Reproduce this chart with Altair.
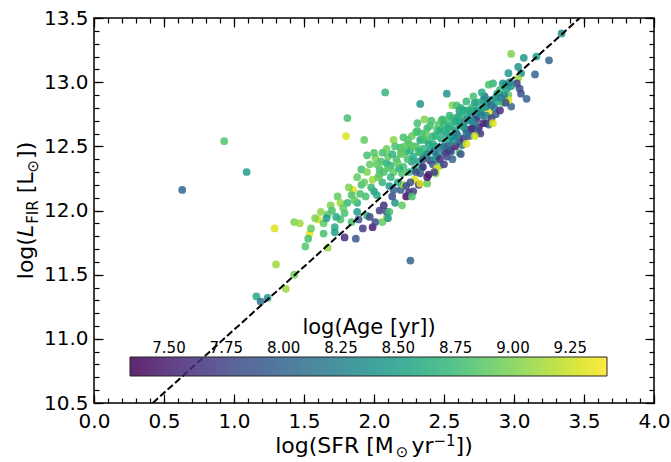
import altair as alt
import pandas as pd

# ---------------- data ----------------
# sparse / outlying galaxies
sfr_a = [0.63, 0.93, 1.09, 1.29, 1.30, 1.16, 1.19, 1.24, 1.37, 1.43, 2.08, 1.81, 1.80, 1.93, 2.26, 3.34, 2.33, 2.52]
lfir_a = [12.16, 12.54, 12.30, 11.86, 11.58, 11.33, 11.29, 11.32, 11.39, 11.50, 12.92, 12.72, 12.58, 12.55, 11.61, 13.38, 12.83, 12.91]
age_a = [8.0, 8.85, 8.5, 9.3, 9.1, 8.6, 8.1, 8.4, 9.1, 8.95, 8.7, 8.8, 9.3, 8.9, 8.0, 8.35, 8.4, 8.4]

# lower part of the band
sfr_b = [1.95, 2.01, 1.91, 1.95, 2.04, 1.91, 1.85, 1.74, 1.84, 1.69, 1.76, 1.81, 1.62, 1.67, 1.43, 1.47, 1.60, 1.64,
         1.72, 1.76, 1.84, 1.89, 1.79, 1.88, 1.95, 1.97, 1.92, 1.99, 2.01, 2.06, 2.09, 1.87, 1.79, 1.72, 1.64, 1.54,
         1.53, 1.51, 1.67, 2.04, 2.09, 2.15, 2.13, 2.07, 2.19, 2.23, 2.21, 2.11, 2.06, 2.00, 1.94, 1.88]
lfir_b = [12.43, 12.41, 12.32, 12.30, 12.28, 12.20, 12.16, 12.11, 12.12, 12.04, 12.06, 12.06, 11.99, 11.97, 11.91, 11.90, 11.93, 11.90,
          11.87, 11.93, 11.91, 11.93, 11.98, 11.99, 11.96, 11.95, 11.86, 11.87, 11.91, 11.91, 11.94, 11.78, 11.79, 11.83, 11.82, 11.82,
          11.78, 11.72, 11.71, 12.00, 11.99, 12.06, 12.11, 12.04, 12.16, 12.11, 12.20, 12.19, 12.22, 12.15, 12.11, 12.06]
age_b = [8.8, 9.0, 8.8, 9.0, 8.9, 8.8, 9.3, 8.9, 8.8, 9.0, 9.1, 8.7, 9.05, 8.9, 9.0, 9.1, 9.3, 8.9,
         8.6, 8.8, 8.8, 7.9, 8.8, 8.5, 8.7, 7.8, 7.7, 7.5, 7.8, 8.9, 9.1, 7.9, 7.6, 8.5, 8.8, 9.35,
         8.8, 8.85, 9.1, 7.7, 7.9, 8.4, 7.8, 7.6, 7.9, 7.4, 9.1, 8.4, 8.7, 8.5, 8.8, 8.6]

# middle of the band
sfr_c = [2.14, 2.21, 2.25, 2.31, 2.36, 2.30, 2.38, 2.33, 2.48, 2.19, 2.23, 2.56, 2.59, 2.66, 2.72, 2.79, 2.82, 2.80,
         2.75, 2.69, 2.61, 2.54, 2.51, 2.45, 2.61, 2.47, 2.40, 2.39, 2.33, 2.29, 2.32, 2.23, 2.25, 2.28, 2.14, 2.45,
         2.49, 2.61, 2.69, 2.64, 2.73, 2.52, 2.57, 2.42, 2.35, 2.50, 2.33, 2.19, 2.27, 2.21, 2.14, 2.09, 2.04, 1.99]
lfir_c = [12.55, 12.57, 12.52, 12.68, 12.71, 12.61, 12.64, 12.55, 12.70, 12.49, 12.46, 12.82, 12.82, 12.85, 12.84, 12.89, 12.76, 12.68,
          12.65, 12.63, 12.54, 12.47, 12.45, 12.42, 12.45, 12.35, 12.39, 12.28, 12.29, 12.24, 12.20, 12.19, 12.14, 12.15, 12.16, 12.63,
          12.71, 12.78, 12.76, 12.69, 12.73, 12.60, 12.58, 12.52, 12.55, 12.50, 12.45, 12.45, 12.38, 12.34, 12.30, 12.37, 12.32, 12.24]
age_c = [9.05, 8.8, 8.8, 8.8, 9.0, 8.8, 8.7, 8.5, 9.1, 8.8, 8.6, 9.0, 8.8, 8.7, 8.4, 8.0, 9.3, 7.6,
         7.5, 7.7, 7.7, 7.6, 7.5, 7.7, 8.8, 8.8, 7.7, 7.5, 7.9, 9.3, 7.6, 7.8, 7.6, 7.7, 8.0, 8.8,
         8.7, 8.5, 8.4, 8.1, 8.0, 8.5, 8.4, 8.6, 8.75, 8.0, 8.8, 8.85, 8.5, 8.8, 8.9, 8.6, 8.8, 9.1]

# upper part of the band
sfr_d = [2.98, 3.07, 3.16, 3.25, 3.03, 3.05, 2.96, 3.15, 3.03, 3.02, 3.04, 3.05, 3.09, 2.98, 2.92, 2.96, 2.85, 2.82,
         2.92, 2.96, 2.88, 2.76, 2.80, 2.73, 2.82, 2.76, 2.66, 2.63, 2.78, 2.71, 2.60, 2.70, 2.54,
         2.20, 2.11, 2.10, 2.27, 2.33, 2.38, 2.44]
lfir_d = [13.22, 13.19, 13.20, 13.17, 13.12, 13.07, 13.07, 13.06, 13.03, 12.99, 12.95, 12.91, 12.87, 12.81, 12.99, 12.90, 12.99, 12.98,
          12.84, 12.86, 12.91, 12.77, 12.81, 12.71, 12.67, 12.60, 12.63, 12.51, 12.86, 12.89, 12.73, 12.78, 12.74,
          12.04, 11.99, 11.94, 12.11, 12.21, 12.21, 12.29]
age_d = [9.0, 8.4, 8.5, 8.0, 8.4, 8.35, 8.45, 8.0, 9.1, 7.7, 7.8, 7.85, 8.0, 8.0, 8.4, 8.9, 8.7, 8.8,
         8.85, 9.3, 8.5, 7.8, 8.1, 7.7, 8.0, 7.7, 7.6, 8.1, 8.4, 8.8, 8.4, 8.5, 8.7,
         8.9, 8.8, 8.5, 8.8, 9.3, 8.9, 9.0]

# dense core of the relation
sfr_e = [2.05, 2.10, 2.12, 2.16, 2.18, 2.20, 2.24, 2.26, 2.28, 2.30, 2.32, 2.35, 2.36, 2.38, 2.40, 2.42, 2.44, 2.46,
         2.48, 2.50, 2.53, 2.55, 2.58, 2.60, 2.63, 2.65, 2.68, 2.70, 2.72, 2.75, 2.78, 2.80, 2.83, 2.86, 2.88, 2.90,
         2.93, 2.95, 2.98,
         1.97, 2.00, 2.03, 2.07, 2.09, 2.12, 2.15, 2.17, 2.22, 2.25, 2.27, 2.29, 2.31, 2.34, 2.37, 2.40, 2.43, 2.46,
         2.52, 2.56, 2.60, 2.62, 2.67, 2.74, 2.77]
lfir_e = [12.38, 12.42, 12.35, 12.40, 12.33, 12.44, 12.40, 12.47, 12.42, 12.50, 12.38, 12.48, 12.42, 12.55, 12.47, 12.58, 12.50, 12.44,
          12.56, 12.62, 12.54, 12.66, 12.62, 12.68, 12.74, 12.64, 12.70, 12.80, 12.66, 12.76, 12.80, 12.74, 12.86, 12.80, 12.85, 12.94,
          12.90, 12.95, 12.97,
          12.36, 12.45, 12.26, 12.30, 12.48, 12.26, 12.50, 12.22, 12.50, 12.30, 12.58, 12.32, 12.62, 12.33, 12.60, 12.66, 12.40, 12.67,
          12.70, 12.72, 12.58, 12.80, 12.78, 12.84, 12.92]
age_e = [8.8, 8.9, 8.7, 8.8, 8.6, 8.9, 8.8, 8.7, 8.6, 8.8, 8.5, 8.7, 8.6, 8.8, 8.5, 8.7, 8.6, 8.4,
         8.6, 8.7, 8.5, 8.6, 8.5, 8.6, 8.7, 8.4, 8.5, 8.7, 8.2, 8.45, 8.6, 8.3, 8.5, 8.2, 8.6, 8.7,
         8.3, 8.5, 8.4,
         8.9, 8.85, 8.9, 8.8, 8.95, 8.7, 8.8, 8.6, 8.9, 8.7, 8.9, 8.6, 8.8, 8.5, 8.9, 8.8, 8.5, 8.85,
         8.8, 8.75, 8.4, 8.7, 8.6, 8.6, 8.6]

# young systems on / below the relation
sfr_f = [2.30, 2.35, 2.42, 2.47, 2.55, 2.58, 2.64, 2.68, 2.70, 2.74, 2.78, 2.84, 2.87, 2.90, 2.94, 2.62, 2.50, 2.38,
         2.26, 2.56, 2.66, 2.45, 2.72, 2.85,
         1.55, 1.58, 1.70, 1.78, 1.86, 1.90, 1.93, 1.98, 2.02, 1.82, 1.88, 1.66, 1.73]
lfir_f = [12.30, 12.34, 12.36, 12.40, 12.46, 12.50, 12.56, 12.58, 12.64, 12.62, 12.68, 12.72, 12.75, 12.78, 12.84, 12.44, 12.36, 12.26,
          12.22, 12.40, 12.52, 12.33, 12.58, 12.68,
          11.86, 11.94, 12.00, 12.02, 12.08, 12.13, 12.22, 12.18, 12.12, 12.18, 12.26, 11.94, 11.95]
age_f = [7.8, 7.6, 7.9, 7.6, 7.8, 7.5, 7.7, 7.9, 7.6, 7.8, 7.6, 7.7, 7.9, 7.6, 7.8, 7.9, 7.7, 7.5,
         7.8, 8.0, 9.3, 9.3, 9.25, 9.3,
         8.9, 9.0, 8.8, 8.9, 8.9, 8.8, 8.9, 8.7, 8.6, 9.0, 8.9, 8.5, 8.6]

# further galaxies in the crowded part of the band
sfr_g = [2.02, 2.06, 2.10, 2.13, 2.17, 2.20, 2.24, 2.28, 2.32, 2.34, 2.39, 2.41, 2.44, 2.47, 2.50, 2.53, 2.55, 2.58,
         2.62, 2.64, 2.67, 2.70, 2.74, 2.77, 2.81, 2.84, 2.87, 2.91, 2.94, 2.97, 2.38, 2.43, 2.48, 2.53, 2.57, 2.35,
         2.59, 2.66, 2.52, 2.43]
lfir_g = [12.36, 12.45, 12.33, 12.44, 12.37, 12.29, 12.55, 12.50, 12.46, 12.60, 12.52, 12.70, 12.58, 12.62, 12.67, 12.64, 12.58, 12.70,
          12.66, 12.78, 12.72, 12.70, 12.78, 12.74, 12.84, 12.82, 12.88, 12.88, 12.98, 13.00, 12.44, 12.46, 12.49, 12.50, 12.54, 12.40,
          12.60, 12.60, 12.42, 12.30]
age_g = [8.9, 8.8, 8.85, 8.7, 8.9, 8.8, 8.85, 8.9, 8.7, 8.8, 8.6, 8.8, 8.7, 8.6, 8.7, 8.6, 8.5, 8.6,
         8.5, 8.6, 8.45, 8.3, 8.4, 8.2, 8.4, 8.1, 8.4, 8.2, 8.45, 8.3, 8.3, 8.1, 8.2, 8.0, 8.3, 8.0,
         8.2, 8.1, 7.8, 7.7]

# dashed reference relation (end points at the y-range edges)
line_sfr = [0.42, 3.47]
line_lfir = [10.5, 13.5]

x_major = [0.0, 0.5, 1.0, 1.5, 2.0, 2.5, 3.0, 3.5, 4.0]
y_major = [10.5, 11.0, 11.5, 12.0, 12.5, 13.0, 13.5]
x_minor = [round(0.1 * i, 1) for i in range(41)]
y_minor = [round(10.5 + 0.1 * i, 1) for i in range(31)]
age_ticks = [7.5, 7.75, 8.0, 8.25, 8.5, 8.75, 9.0, 9.25]
age_domain = [7.33, 9.41]

# ---------------- chart ----------------
df = pd.DataFrame({
    "sfr": sfr_a + sfr_b + sfr_c + sfr_d + sfr_e + sfr_f + sfr_g,
    "lfir": lfir_a + lfir_b + lfir_c + lfir_d + lfir_e + lfir_f + lfir_g,
    "age": age_a + age_b + age_c + age_d + age_e + age_f + age_g,
})
line_df = pd.DataFrame({"sfr": line_sfr, "lfir": line_lfir})

FONT = "DejaVu Sans"
W, H = 560, 385
xscale = alt.Scale(domain=[0, 4], nice=False, zero=False)
yscale = alt.Scale(domain=[10.5, 13.5], nice=False, zero=False)


def axis(orient, values, size, labels, pad=6):
    kw = dict(orient=orient, values=values, tickSize=size, offset=-size, domain=False, grid=False,
              ticks=True, tickColor="black", tickWidth=1.2, title=None, labels=labels)
    if labels:
        kw.update(labelFontSize=20, labelFont=FONT, labelColor="black", labelPadding=pad,
                  format=".1f", labelFlush=False, labelOverlap=False)
    return alt.Axis(**kw)


pts = alt.Chart(df).mark_circle(size=60, opacity=0.85).encode(
    x=alt.X("sfr:Q", scale=xscale, axis=axis("bottom", x_major, 9, True, 8)),
    y=alt.Y("lfir:Q", scale=yscale, axis=axis("left", y_major, 9, True, 6)),
    color=alt.Color("age:Q", scale=alt.Scale(scheme="viridis", domain=age_domain),
                    legend=alt.Legend(orient="none", legendX=36, legendY=299, direction="horizontal",
                                      gradientLength=477, gradientThickness=19,
                                      gradientStrokeColor="black", gradientStrokeWidth=1,
                                      title="log(Age [yr])", titleFont=FONT, titleFontSize=21,
                                      titleFontWeight="normal", titleColor="black", titleAnchor="middle",
                                      titlePadding=19, padding=0,
                                      labelFont=FONT, labelFontSize=15, labelColor="black",
                                      labelOffset={"expr": "-35"}, labelAlign="center",
                                      values=age_ticks, format=".2f", labelOverlap=False)),
)

line = alt.Chart(line_df).mark_line(color="black", strokeDash=[7, 3], strokeWidth=2, clip=True).encode(
    x=alt.X("sfr:Q", scale=xscale, axis=axis("bottom", x_minor, 5, False)),
    y=alt.Y("lfir:Q", scale=yscale, axis=axis("left", y_minor, 5, False)),
)

dummy1 = alt.Chart(line_df).mark_line(opacity=0).encode(
    x=alt.X("sfr:Q", scale=xscale, axis=axis("top", x_major, 9, False)),
    y=alt.Y("lfir:Q", scale=yscale, axis=axis("right", y_major, 9, False)),
)
dummy2 = alt.Chart(line_df).mark_line(opacity=0).encode(
    x=alt.X("sfr:Q", scale=xscale, axis=axis("top", x_minor, 5, False)),
    y=alt.Y("lfir:Q", scale=yscale, axis=axis("right", y_minor, 5, False)),
)

# --- axis titles with sub/superscripts, composed of text pieces ---
EM = {"l": 0.278, "o": 0.612, "g": 0.635, "(": 0.390, ")": 0.390, "S": 0.635, "F": 0.575, "R": 0.695,
      " ": 0.318, "[": 0.390, "]": 0.390, "M": 0.863, "y": 0.592, "r": 0.411, "−": 0.838, "1": 0.636,
      "⊙": 0.838, "L": 0.557, "I": 0.295}


def tw(s, fs):
    return sum(EM[c] for c in s) * fs


one = pd.DataFrame({"k": [0]})
title_layers = []
TF, SF = 22, 15

# x title: log(SFR [M⊙ yr⁻¹])
xpieces = [("log(SFR [M", TF, 0, 2), ("⊙", SF, 4, 3), ("yr", TF, 0, 0), ("−1", SF, -7, 0), ("])", TF, 0, 0)]
total = sum(tw(t, f) + g for t, f, d, g in xpieces)
cx = W / 2 - total / 2
for t, f, d, g in xpieces:
    title_layers.append(alt.Chart(one).mark_text(text=t, fontSize=f, font=FONT, color="black",
                                                 align="left", baseline="alphabetic").encode(
        x=alt.value(cx), y=alt.value(H + 50 + d)))
    cx += tw(t, f) + g

# y title: log(L_FIR [L⊙])
ypieces = [("log(", TF, 0, "normal", 0), ("L", TF, 0, "italic", 1), ("FIR", SF, 5, "normal", 7),
           ("[L", TF, 0, "normal", 0), ("⊙", SF, 5, "normal", 1), ("])", TF, 0, "normal", 0)]
total = sum(tw(t, f) + g for t, f, d, s, g in ypieces)
cy = H / 2 + total / 2
for t, f, d, s, g in ypieces:
    title_layers.append(alt.Chart(one).mark_text(text=t, fontSize=f, font=FONT, color="black", fontStyle=s,
                                                 align="left", baseline="alphabetic", angle=270).encode(
        x=alt.value(-61 + d), y=alt.value(cy)))
    cy -= tw(t, f) + g

chart = alt.layer(pts, line, dummy1, dummy2, *title_layers).resolve_axis(
    x="independent", y="independent"
).properties(
    width=W, height=H,
    padding={"left": 94, "top": 18, "right": 17, "bottom": 59},
    autosize=alt.AutoSizeParams(type="none"),
).configure_view(stroke="black", strokeWidth=1.5)

chart.save("out.html", embed_options={"renderer": "svg", "actions": False})
